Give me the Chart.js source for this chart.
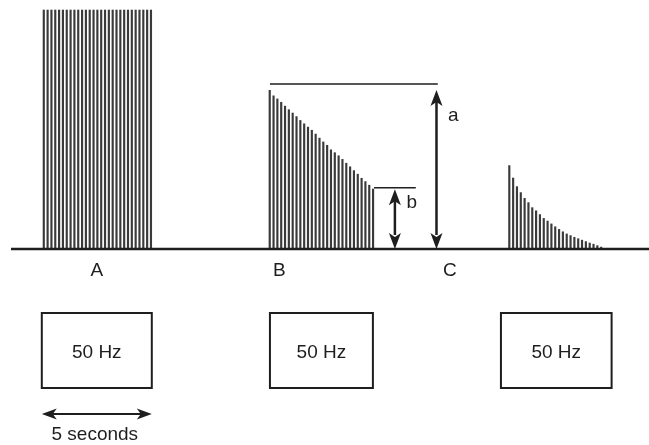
<!DOCTYPE html>
<html>
<head>
<meta charset="utf-8">
<script src="https://cdn.jsdelivr.net/npm/chart.js@4"></script>
<style>
  body { margin: 0; background: #fff; }
  #wrap { width: 649px; height: 445px; }
</style>
</head>
<body>
<div id="wrap"><canvas id="c" width="649" height="445"></canvas></div>
<script>
// time axis in seconds, amplitude relative to train A (=100)
const xMax = 29.5;
const pulseInterval = 0.174;

// Train A - full response
const startA = 1.99;
const heightsA = [100, 100, 100, 100, 100, 100, 100, 100, 100, 100,
  100, 100, 100, 100, 100, 100, 100, 100, 100, 100,
  100, 100, 100, 100, 100, 100, 100, 100, 100];

// Train B - fading response
const startB = 12.26;
const heightsB = [66.4, 64.1, 62.8, 61.4, 59.8, 58.3, 56.9, 55.4, 53.8, 52.4,
  51.0, 49.7, 48.1, 46.4, 44.8, 43.4, 41.5, 40.3, 39.0, 37.5,
  35.9, 34.4, 32.8, 31.3, 29.6, 28.2, 26.7, 25.1];

// Train C - decaying response
const startC = 23.15;
const heightsC = [34.9, 29.7, 26.1, 23.6, 21.2, 19.4, 17.3, 16.0, 14.4, 12.8,
  11.7, 10.5, 9.3, 8.2, 7.2, 6.3, 5.6, 4.9, 4.3, 3.7,
  3.1, 2.5, 2.0, 1.4, 0.8];

// markers a / b
const levelA = 69.0;
const levelB = 25.6;
const trainLabels = ["A", "B", "C"];
const trainLabelX = [4.4, 12.7, 20.45];
const stimBoxes = [[1.9, 6.9], [12.27, 16.95], [22.77, 27.8]];
const stimText = "50 Hz";

function pulses(start, heights) {
  return heights.map((h, i) => ({ x: start + i * pulseInterval, y: h }));
}

const FONT = '"Liberation Sans", Arial, sans-serif';
const INK = "#1e1e1e";

function arrowHead(ctx, x, y, dir) {
  // dir = -1 points up, 1 points down
  ctx.beginPath();
  ctx.moveTo(x, y);
  ctx.lineTo(x - 6, y - dir * 16);
  ctx.lineTo(x, y - dir * 12);
  ctx.lineTo(x + 6, y - dir * 16);
  ctx.closePath();
  ctx.fill();
}

function arrowHeadH(ctx, x, y, dir) {
  // dir = -1 points left, 1 points right
  ctx.beginPath();
  ctx.moveTo(x, y);
  ctx.lineTo(x - dir * 15, y - 5.5);
  ctx.lineTo(x - dir * 11, y);
  ctx.lineTo(x - dir * 15, y + 5.5);
  ctx.closePath();
  ctx.fill();
}

const overlay = {
  id: "overlay",
  afterDatasetsDraw(chart) {
    const { ctx, scales: { x, y } } = chart;
    const y0 = y.getPixelForValue(0);
    ctx.save();
    ctx.strokeStyle = INK;
    ctx.fillStyle = INK;

    // baseline
    ctx.lineWidth = 2.5;
    ctx.beginPath();
    ctx.moveTo(11, y0);
    ctx.lineTo(chart.width, y0);
    ctx.stroke();

    // level a
    const ya = y.getPixelForValue(levelA);
    ctx.lineWidth = 1.5;
    ctx.beginPath();
    ctx.moveTo(x.getPixelForValue(12.27), ya);
    ctx.lineTo(x.getPixelForValue(19.9), ya);
    ctx.stroke();
    // level b
    const yb = y.getPixelForValue(levelB);
    ctx.beginPath();
    ctx.moveTo(x.getPixelForValue(17.0), yb);
    ctx.lineTo(x.getPixelForValue(18.9), yb);
    ctx.stroke();

    // arrow a
    const xa = x.getPixelForValue(19.84);
    ctx.lineWidth = 2.5;
    ctx.beginPath();
    ctx.moveTo(xa, ya + 14);
    ctx.lineTo(xa, y0 - 14);
    ctx.stroke();
    arrowHead(ctx, xa, ya + 6, -1);
    arrowHead(ctx, xa, y0, 1);
    // arrow b
    const xb = x.getPixelForValue(17.95);
    ctx.beginPath();
    ctx.moveTo(xb, yb + 12);
    ctx.lineTo(xb, y0 - 14);
    ctx.stroke();
    arrowHead(ctx, xb, yb + 1.5, -1);
    arrowHead(ctx, xb, y0, 1);

    ctx.font = "19px " + FONT;
    ctx.textAlign = "center";
    ctx.textBaseline = "middle";
    ctx.fillText("a", x.getPixelForValue(20.6), y.getPixelForValue(55.6));
    ctx.fillText("b", x.getPixelForValue(18.72), y.getPixelForValue(19.2));

    // train labels
    trainLabels.forEach((t, i) => {
      ctx.fillText(t, x.getPixelForValue(trainLabelX[i]), y0 + 22);
    });

    // stimulus boxes
    ctx.lineWidth = 2;
    stimBoxes.forEach(([s, e]) => {
      const l = x.getPixelForValue(s), r = x.getPixelForValue(e);
      ctx.strokeRect(l, y0 + 64, r - l, 75);
      ctx.fillText(stimText, (l + r) / 2, y0 + 104);
    });

    // 5 seconds scale
    const s0 = x.getPixelForValue(stimBoxes[0][0]);
    const s1 = x.getPixelForValue(stimBoxes[0][0] + 5);
    const ys = y0 + 165;
    ctx.lineWidth = 2.2;
    ctx.beginPath();
    ctx.moveTo(s0 + 8, ys);
    ctx.lineTo(s1 - 8, ys);
    ctx.stroke();
    arrowHeadH(ctx, s0, ys, -1);
    arrowHeadH(ctx, s1, ys, 1);
    ctx.fillText("5 seconds", (s0 + s1) / 2 - 2, y0 + 186);
    ctx.restore();
  }
};

const barStyle = { backgroundColor: "#3a3a3a", barThickness: 1.5, grouped: false };

new Chart(document.getElementById("c"), {
  type: "bar",
  data: {
    datasets: [
      { data: pulses(startA, heightsA), ...barStyle },
      { data: pulses(startB, heightsB), ...barStyle },
      { data: pulses(startC, heightsC), ...barStyle }
    ]
  },
  options: {
    responsive: false,
    animation: false,
    layout: { padding: { left: 0, right: 0, top: 0, bottom: 196 } },
    plugins: { legend: { display: false }, tooltip: { enabled: false } },
    scales: {
      x: { type: "linear", min: 0, max: xMax, offset: false, display: false },
      y: { min: 0, max: 104.2, display: false }
    }
  },
  plugins: [overlay]
});
</script>
</body>
</html>
